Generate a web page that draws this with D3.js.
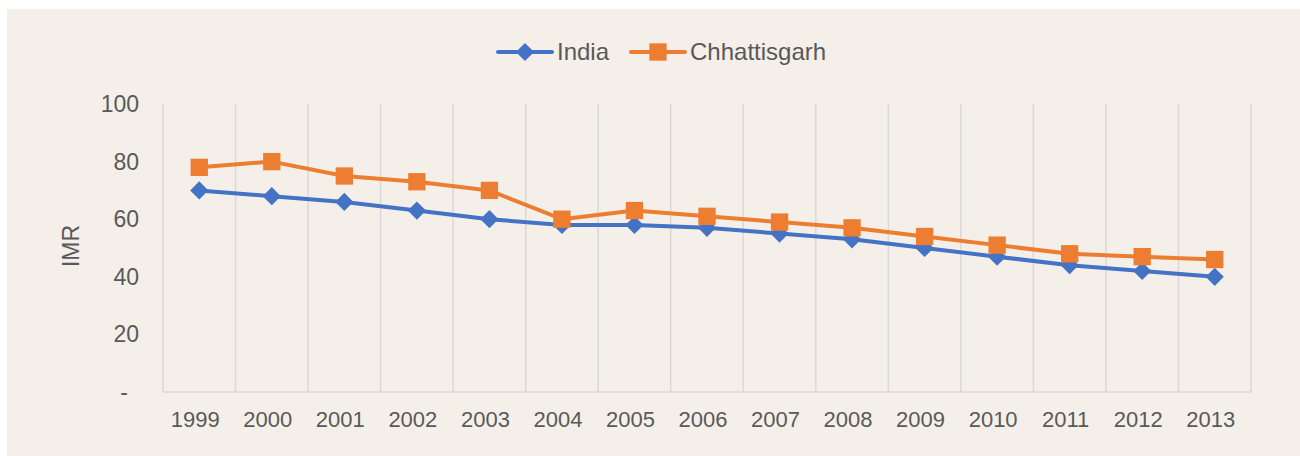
<!DOCTYPE html>
<html>
<head>
<meta charset="utf-8">
<script src="https://cdn.jsdelivr.net/npm/d3@7"></script>
<style>
  body { margin: 0; background: #fff; }
  text { font-family: "Liberation Sans", Arial, sans-serif; fill: #595959; }
</style>
</head>
<body>
<script>
const years = ['1999', '2000', '2001', '2002', '2003', '2004', '2005', '2006',
    '2007', '2008', '2009', '2010', '2011', '2012', '2013'];
const india = [70, 68, 66, 63, 60, 58, 58, 57, 55, 53, 50, 47, 44, 42, 40];
const chhattisgarh = [78, 80, 75, 73, 70, 60, 63, 61, 59, 57, 54, 51, 48, 47, 46];
const yTicks = [0, 20, 40, 60, 80, 100];

const width = 1300, height = 456;
const plot = {left: 163, right: 1251, top: 104, bottom: 392};

const svg = d3.select('body').append('svg')
    .attr('width', width)
    .attr('height', height);

svg.append('rect')
    .attr('x', 7).attr('y', 9)
    .attr('width', 1293).attr('height', 447)
    .attr('fill', '#f4f0e9');

const x = d3.scaleBand()
    .domain(years)
    .range([plot.left, plot.right]);

const y = d3.scaleLinear()
    .domain([0, 100])
    .range([plot.bottom, plot.top]);

// vertical gridlines at category boundaries
const bounds = years.map(d => x(d)).concat([plot.right]);
svg.append('g')
    .selectAll('line')
    .data(bounds)
    .enter().append('line')
    .attr('x1', d => d).attr('x2', d => d)
    .attr('y1', plot.top).attr('y2', plot.bottom)
    .attr('stroke', '#d9d9d9')
    .attr('stroke-width', 1.5);

svg.append('line')
    .attr('x1', plot.left).attr('x2', plot.right)
    .attr('y1', plot.bottom).attr('y2', plot.bottom)
    .attr('stroke', '#d9d9d9')
    .attr('stroke-width', 1.5);

// y axis labels
svg.append('g')
    .selectAll('text')
    .data(yTicks)
    .enter().append('text')
    .attr('x', d => d === 0 ? 128 : 139)
    .attr('y', d => y(d))
    .attr('dy', '0.35em')
    .attr('text-anchor', 'end')
    .style('font-size', '23px')
    .text(d => d === 0 ? '-' : d);

// x axis labels
svg.append('g')
    .selectAll('text')
    .data(years)
    .enter().append('text')
    .attr('x', d => x(d) + x.bandwidth() / 2 - 4)
    .attr('y', 427)
    .attr('text-anchor', 'middle')
    .style('font-size', '22px')
    .text(d => d);

svg.append('text')
    .attr('transform', 'translate(79,' + 246 + ') rotate(-90)')
    .attr('text-anchor', 'middle')
    .style('font-size', '23px')
    .text('IMR');

const series = [
    {name: 'India', values: india, color: '#4472c4', diamond: true},
    {name: 'Chhattisgarh', values: chhattisgarh, color: '#ed7d31', diamond: false},
];

const diamond = d3.symbol().type(d3.symbolSquare).size(165);
const square = d3.symbol().type(d3.symbolSquare).size(300);

const line = d3.line()
    .x((d, i) => x(years[i]) + x.bandwidth() / 2)
    .y(d => y(d));

series.forEach(s => {
    const g = svg.append('g');
    g.append('path')
        .attr('d', line(s.values))
        .attr('fill', 'none')
        .attr('stroke', s.color)
        .attr('stroke-width', 4)
        .attr('stroke-linejoin', 'round');
    g.selectAll('path.marker')
        .data(s.values)
        .enter().append('path')
        .attr('class', 'marker')
        .attr('transform', (d, i) => 'translate(' + (x(years[i]) + x.bandwidth() / 2) + ',' + y(d) + ')' +
            (s.diamond ? ' rotate(45)' : ''))
        .attr('d', s.diamond ? diamond() : square())
        .attr('fill', s.color);
});

// legend
const legend = [
    {name: 'India', x: 498, color: '#4472c4', diamond: true},
    {name: 'Chhattisgarh', x: 631, color: '#ed7d31', diamond: false},
];
const lg = svg.append('g');
legend.forEach(l => {
    lg.append('line')
        .attr('x1', l.x).attr('x2', l.x + 54)
        .attr('y1', 52).attr('y2', 52)
        .attr('stroke', l.color)
        .attr('stroke-width', 4)
        .attr('stroke-linecap', 'round');
    lg.append('path')
        .attr('transform', 'translate(' + (l.x + 27) + ',52)' + (l.diamond ? ' rotate(45)' : ''))
        .attr('d', l.diamond ? diamond() : square())
        .attr('fill', l.color);
    lg.append('text')
        .attr('x', l.x + 59)
        .attr('y', 52)
        .attr('dy', '0.35em')
        .style('font-size', '24px')
        .text(l.name);
});
</script>
</body>
</html>
